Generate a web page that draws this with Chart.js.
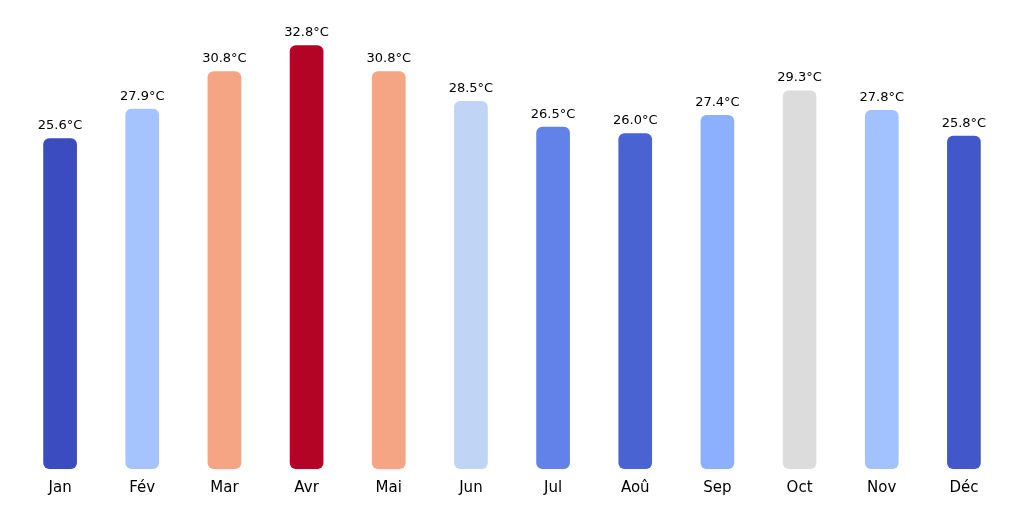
<!DOCTYPE html>
<html><head><meta charset="utf-8">
<script src="https://cdn.jsdelivr.net/npm/chart.js@4"></script>
<style>html,body{margin:0;background:#fff}#w{width:1024px;height:507px}</style>
</head><body><div id="w"><canvas id="c"></canvas></div>
<script>
const months = ["Jan","Fév","Mar","Avr","Mai","Jun","Jul","Aoû","Sep","Oct","Nov","Déc"];
const temps = [25.6,27.9,30.8,32.8,30.8,28.5,26.5,26.0,27.4,29.3,27.8,25.8];
const colors = ["#3b4cc0","#a5c4fe","#f5a584","#b40426","#f5a584","#c0d4f5","#6282ea","#4a63d3","#8caffe","#dddcdc","#a2c1ff","#4257c9"];
const labelPlugin = {
  id:'lbl',
  afterDatasetsDraw(chart){
    const ctx = chart.ctx, meta = chart.getDatasetMeta(0);
    ctx.save();
    ctx.font = '13px "DejaVu Sans"';
    ctx.fillStyle = '#000';
    ctx.textAlign = 'center';
    ctx.textBaseline = 'bottom';
    meta.data.forEach((b,i)=>{ ctx.fillText(temps[i].toFixed(1)+'°C', b.x, b.y-6); });
    ctx.restore();
  }
};
new Chart(document.getElementById('c'),{
  type:'bar',
  data:{labels:months,datasets:[{data:temps,backgroundColor:colors,borderRadius:6,borderSkipped:false,barPercentage:0.82,categoryPercentage:0.5}]},
  options:{
    responsive:true,maintainAspectRatio:false,animation:false,
    layout:{padding:{left:19,right:19,top:4,bottom:8}},
    plugins:{legend:{display:false},tooltip:{enabled:false}},
    scales:{
      y:{display:false,min:0,max:36},
      x:{grid:{display:false},border:{display:false},ticks:{color:'#000',font:{family:'DejaVu Sans',size:15},padding:2}}
    }
  },
  plugins:[labelPlugin]
});
</script></body></html>
